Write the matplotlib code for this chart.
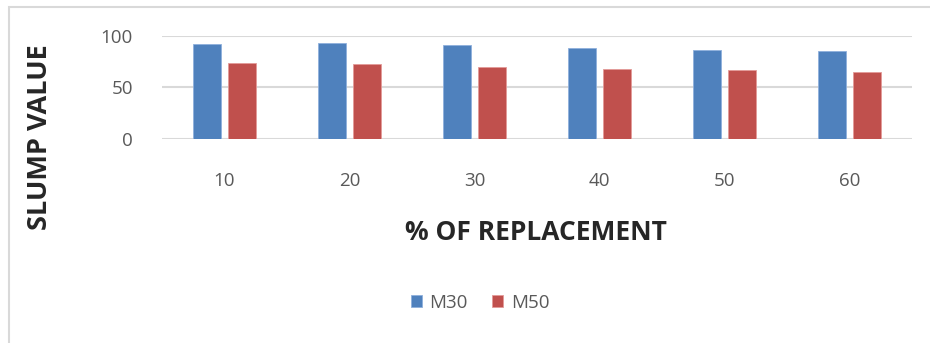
import numpy as np
import matplotlib
matplotlib.use('Agg')
from matplotlib import pyplot as plt
from matplotlib.patches import Rectangle

# slump values per replacement level
replacement = ['10', '20', '30', '40', '50', '60']
m30 = [92, 93, 91, 88.5, 86.5, 85]
m50 = [73.5, 73, 70, 68, 66.5, 65]

plt.rcParams['font.family'] = ['Open Sans', 'DejaVu Sans']

fig = plt.figure(figsize=(9.3, 3.43), dpi=100)
# light chart frame
fig.patches.append(Rectangle((9 / 930, -0.1), 1.0, 1 - 7 / 343 + 0.1,
                             transform=fig.transFigure, fill=False,
                             edgecolor='#d9d9d9', linewidth=1.5))

ax = fig.add_axes([162 / 930, 1 - 139 / 343, 750 / 930, 103.3 / 343])
x = np.arange(len(replacement))
w = 0.224
ax.bar(x - 0.142, m30, w, color='#4F81BD', edgecolor='#8fb0dc', linewidth=0.6, label='M30', zorder=3)
ax.bar(x + 0.142, m50, w, color='#C0504D', edgecolor='#e39a98', linewidth=0.6, label='M50', zorder=3)

ax.set_xlim(-0.5, len(replacement) - 0.5)
ax.set_ylim(0, 100)
ax.set_yticks([0, 50, 100])
ax.set_xticks(x)
ax.set_xticklabels(replacement)
ax.grid(axis='y', color='#d9d9d9', linewidth=1.5, zorder=0)
for s in ax.spines.values():
    s.set_visible(False)
ax.tick_params(length=0, labelsize=13.5, colors='#595959')
ax.tick_params(axis='x', pad=24)
ax.tick_params(axis='y', pad=21)

fig.text(40 / 930, 1 - 137 / 343, 'SLUMP VALUE', rotation=90, ha='center', va='center',
         fontsize=19.5, fontweight='bold', color='#262626')
fig.text(536 / 930, 1 - 233 / 343, '% OF REPLACEMENT', ha='center', va='center',
         fontsize=19, fontweight='bold', color='#262626')

fig.legend(loc='center', bbox_to_anchor=(480 / 930, 1 - 303 / 343), ncol=2, frameon=False,
           fontsize=13.5, labelcolor='#595959', handlelength=0.6, handleheight=0.6,
           handletextpad=0.4, columnspacing=1.3)

fig.savefig('out.png', dpi=100)
